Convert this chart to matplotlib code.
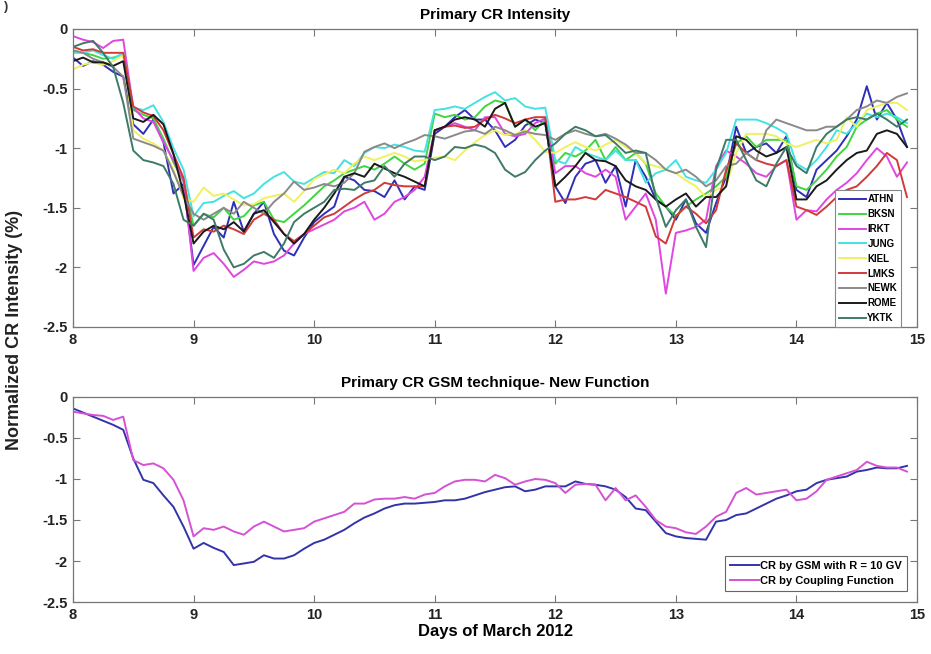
import numpy as np
import matplotlib
matplotlib.use("Agg")
import matplotlib.pyplot as plt

plt.rcParams['font.family'] = ['Liberation Sans', 'DejaVu Sans']
plt.rcParams['font.weight'] = 'bold'

# 2-hourly samples, 8 March 00h .. 14 March 22h
days = 8 + np.arange(84) / 12.0

stations = ['ATHN', 'BKSN', 'IRKT', 'JUNG', 'KIEL', 'LMKS', 'NEWK', 'ROME', 'YKTK']
station_colors = ['#2f2fb8', '#3fd63f', '#e046e0', '#44e2e2', '#f0f060',
                  '#d23a3a', '#8a8a8a', '#1a1a1a', '#3e7a68']

athn = [-0.24, -0.31, -0.27, -0.30, -0.36, -0.40, -0.80, -0.88, -0.76, -0.95, -1.38, -1.30,
        -1.98, -1.82, -1.66, -1.75, -1.45, -1.70, -1.55, -1.45, -1.72, -1.86, -1.90, -1.75,
        -1.62, -1.55, -1.49, -1.24, -1.27, -1.35, -1.36, -1.41, -1.27, -1.43, -1.32, -1.35,
        -0.88, -0.82, -0.74, -0.68, -0.76, -0.76, -0.85, -0.99, -0.93, -0.81, -0.76, -0.79,
        -1.32, -1.46, -1.24, -1.13, -1.10, -1.29, -1.15, -1.49, -1.10, -1.24, -1.43, -1.49,
        -1.60, -1.43, -1.63, -1.71, -1.46, -1.24, -0.82, -1.04, -0.99, -0.96, -1.04, -0.90,
        -1.35, -1.41, -1.18, -1.10, -1.02, -0.90, -0.76, -0.48, -0.76, -0.62, -0.76, -0.99]
bksn = [-0.18, -0.20, -0.22, -0.25, -0.24, -0.22, -0.68, -0.72, -0.75, -0.92, -1.12, -1.28,
        -1.65, -1.55, -1.58, -1.50, -1.60, -1.57, -1.48, -1.45, -1.60, -1.62, -1.55, -1.48,
        -1.40, -1.32, -1.27, -1.21, -1.18, -1.15, -1.18, -1.13, -1.07, -1.13, -1.18, -1.13,
        -0.71, -0.74, -0.72, -0.76, -0.74, -0.65, -0.60, -0.62, -0.82, -0.76, -0.85, -0.76,
        -1.13, -1.04, -1.07, -1.02, -0.93, -1.10, -0.99, -1.10, -1.04, -1.13, -1.38, -1.49,
        -1.57, -1.49, -1.43, -1.38, -1.32, -1.24, -0.96, -0.90, -0.99, -0.93, -0.93, -0.93,
        -1.32, -1.35, -1.27, -1.18, -1.07, -0.99, -0.82, -0.76, -0.71, -0.68, -0.76, -0.82]
irkt = [-0.06, -0.09, -0.11, -0.16, -0.10, -0.09, -0.66, -0.75, -0.78, -0.95, -1.10, -1.27,
        -2.03, -1.92, -1.88, -1.97, -2.08, -2.02, -1.95, -1.97, -1.95, -1.90, -1.80, -1.72,
        -1.68, -1.64, -1.60, -1.53, -1.50, -1.45, -1.60, -1.55, -1.45, -1.41, -1.35, -1.24,
        -0.85, -0.82, -0.79, -0.82, -0.85, -0.74, -0.74, -0.88, -0.90, -0.88, -0.79, -0.75,
        -1.21, -1.15, -1.15, -1.21, -1.24, -1.18, -1.24, -1.60, -1.49, -1.38, -1.60, -2.22,
        -1.71, -1.69, -1.66, -1.60, -1.15, -1.02, -1.07, -1.13, -1.21, -1.24, -1.15, -1.10,
        -1.60, -1.52, -1.53, -1.43, -1.35, -1.29, -1.21, -1.10, -1.00, -1.07, -1.24, -1.12]
jung = [-0.20, -0.20, -0.18, -0.22, -0.25, -0.20, -0.66, -0.68, -0.64, -0.78, -1.00, -1.18,
        -1.57, -1.46, -1.45, -1.40, -1.36, -1.42, -1.38, -1.30, -1.24, -1.20, -1.28, -1.30,
        -1.25, -1.20, -1.21, -1.10, -1.15, -1.04, -0.99, -1.00, -0.97, -0.99, -1.02, -1.03,
        -0.68, -0.67, -0.65, -0.67, -0.62, -0.57, -0.53, -0.60, -0.58, -0.65, -0.67, -0.66,
        -1.10, -1.13, -0.99, -1.04, -1.07, -1.10, -1.02, -1.10, -1.10, -1.29, -1.21, -1.18,
        -1.10, -1.24, -1.27, -1.29, -1.18, -1.04, -0.76, -0.76, -0.76, -0.79, -0.83, -0.88,
        -1.13, -1.18, -1.10, -0.99, -0.85, -0.88, -0.79, -0.71, -0.74, -0.71, -0.74, -0.79]
kiel = [-0.34, -0.30, -0.28, -0.30, -0.27, -0.22, -0.85, -0.92, -0.96, -1.02, -1.18, -1.42,
        -1.45, -1.33, -1.40, -1.38, -1.43, -1.48, -1.47, -1.42, -1.40, -1.38, -1.45, -1.36,
        -1.26, -1.22, -1.18, -1.21, -1.13, -1.07, -1.10, -1.07, -1.04, -1.07, -1.11, -1.10,
        -1.08, -1.07, -1.10, -1.02, -0.95, -0.89, -0.85, -0.89, -0.88, -0.85, -0.93, -1.03,
        -1.04, -0.99, -0.95, -0.99, -1.02, -0.97, -0.93, -0.99, -1.04, -1.13, -1.15, -1.18,
        -1.21, -1.27, -1.32, -1.41, -1.35, -1.32, -1.04, -0.88, -0.88, -0.88, -0.90, -0.96,
        -0.99, -0.96, -0.93, -0.96, -0.93, -0.74, -0.82, -0.68, -0.65, -0.62, -0.62, -0.68]
lmks = [-0.15, -0.18, -0.17, -0.20, -0.20, -0.20, -0.65, -0.70, -0.73, -0.85, -1.05, -1.25,
        -1.75, -1.68, -1.70, -1.65, -1.68, -1.72, -1.60, -1.55, -1.60, -1.72, -1.78, -1.72,
        -1.65, -1.58, -1.55, -1.49, -1.43, -1.38, -1.35, -1.29, -1.31, -1.32, -1.32, -1.32,
        -0.85, -0.82, -0.81, -0.83, -0.82, -0.76, -0.72, -0.75, -0.79, -0.76, -0.74, -0.74,
        -1.45, -1.43, -1.43, -1.41, -1.43, -1.35, -1.38, -1.41, -1.45, -1.49, -1.74, -1.80,
        -1.57, -1.49, -1.55, -1.63, -1.52, -1.18, -0.96, -1.04, -1.10, -1.13, -1.15, -1.10,
        -1.49, -1.52, -1.56, -1.49, -1.41, -1.35, -1.32, -1.24, -1.15, -1.04, -1.10, -1.41]
newk = [-0.18, -0.20, -0.25, -0.28, -0.32, -0.40, -0.92, -0.95, -0.98, -1.02, -1.20, -1.40,
        -1.55, -1.60, -1.55, -1.50, -1.55, -1.45, -1.50, -1.55, -1.45, -1.38, -1.28, -1.35,
        -1.33, -1.30, -1.32, -1.29, -1.21, -1.03, -0.99, -0.96, -1.00, -0.96, -0.93, -0.89,
        -0.90, -0.92, -0.89, -0.86, -0.85, -0.88, -0.82, -0.85, -0.89, -0.86, -0.88, -0.89,
        -0.93, -0.88, -0.85, -0.88, -0.90, -0.88, -0.92, -0.97, -1.04, -1.04, -1.10, -1.18,
        -1.21, -1.18, -1.24, -1.32, -1.27, -1.15, -1.13, -1.04, -1.10, -0.85, -0.76, -0.79,
        -0.82, -0.85, -0.85, -0.82, -0.82, -0.76, -0.68, -0.65, -0.60, -0.62, -0.57, -0.54]
rome = [-0.27, -0.24, -0.28, -0.28, -0.31, -0.27, -0.75, -0.78, -0.72, -0.80, -1.05, -1.38,
        -1.80, -1.70, -1.65, -1.68, -1.62, -1.70, -1.55, -1.52, -1.62, -1.72, -1.80, -1.72,
        -1.60, -1.50, -1.38, -1.24, -1.21, -1.24, -1.13, -1.17, -1.21, -1.24, -1.28, -1.32,
        -0.85, -0.82, -0.76, -0.74, -0.76, -0.82, -0.67, -0.62, -0.82, -0.76, -0.82, -0.79,
        -1.32, -1.24, -1.15, -1.04, -1.10, -1.11, -1.15, -1.27, -1.32, -1.35, -1.43, -1.49,
        -1.43, -1.38, -1.49, -1.41, -1.41, -1.32, -0.90, -0.93, -1.02, -1.07, -1.04, -0.99,
        -1.43, -1.43, -1.32, -1.27, -1.18, -1.10, -1.04, -1.02, -0.88, -0.85, -0.88, -0.99]
yktk = [-0.15, -0.12, -0.10, -0.20, -0.32, -0.62, -1.02, -1.10, -1.12, -1.15, -1.30, -1.60,
        -1.65, -1.55, -1.60, -1.85, -2.00, -1.97, -1.90, -1.87, -1.92, -1.80, -1.62, -1.55,
        -1.50, -1.45, -1.35, -1.34, -1.35, -1.29, -1.27, -1.15, -1.24, -1.13, -1.07, -1.07,
        -1.10, -1.07, -0.99, -1.00, -0.97, -0.99, -1.04, -1.18, -1.24, -1.20, -1.10, -1.02,
        -0.96, -0.88, -0.82, -0.85, -0.90, -0.89, -0.96, -1.04, -1.02, -1.04, -1.41, -1.66,
        -1.52, -1.43, -1.66, -1.83, -1.18, -0.93, -0.93, -1.10, -1.27, -1.32, -1.13, -0.99,
        -1.15, -1.21, -0.99, -0.88, -0.82, -0.76, -0.74, -0.76, -0.71, -0.76, -0.82, -0.76]
station_series = [athn, bksn, irkt, jung, kiel, lmks, newk, rome, yktk]

# GSM-derived primary intensity and coupling-function estimate
gsm_10gv = [-0.14, -0.19, -0.24, -0.29, -0.34, -0.40, -0.75, -1.01, -1.05, -1.20, -1.34, -1.58,
            -1.85, -1.78, -1.84, -1.89, -2.05, -2.03, -2.01, -1.93, -1.97, -1.97, -1.93, -1.85,
            -1.78, -1.74, -1.68, -1.62, -1.54, -1.47, -1.42, -1.36, -1.32, -1.30, -1.30, -1.29,
            -1.28, -1.26, -1.26, -1.24, -1.20, -1.16, -1.13, -1.10, -1.09, -1.15, -1.13, -1.09,
            -1.09, -1.09, -1.03, -1.06, -1.07, -1.09, -1.13, -1.22, -1.36, -1.38, -1.52, -1.66,
            -1.70, -1.72, -1.73, -1.74, -1.52, -1.50, -1.44, -1.42, -1.36, -1.30, -1.24, -1.20,
            -1.15, -1.13, -1.05, -1.01, -0.99, -0.97, -0.91, -0.89, -0.86, -0.87, -0.87, -0.84]
coupling = [-0.18, -0.20, -0.22, -0.23, -0.28, -0.24, -0.77, -0.83, -0.81, -0.87, -1.01, -1.26,
            -1.70, -1.60, -1.62, -1.58, -1.64, -1.68, -1.58, -1.52, -1.58, -1.64, -1.62, -1.60,
            -1.52, -1.48, -1.44, -1.40, -1.30, -1.30, -1.25, -1.24, -1.24, -1.22, -1.24, -1.19,
            -1.17, -1.09, -1.03, -1.01, -1.01, -1.03, -0.95, -0.99, -1.07, -1.03, -1.00, -1.01,
            -1.05, -1.17, -1.07, -1.06, -1.07, -1.26, -1.11, -1.26, -1.20, -1.34, -1.50, -1.58,
            -1.60, -1.65, -1.67, -1.58, -1.46, -1.40, -1.17, -1.11, -1.19, -1.17, -1.15, -1.13,
            -1.26, -1.24, -1.15, -1.01, -0.97, -0.93, -0.89, -0.79, -0.84, -0.86, -0.86, -0.91]

x_ticks = [8, 9, 10, 11, 12, 13, 14, 15]
y_ticks = [0, -0.5, -1, -1.5, -2, -2.5]
y_tick_labels = ['0', '-0.5', '-1', '-1.5', '-2', '-2.5']

fig = plt.figure(figsize=(9.31, 6.54), dpi=100)
ax1 = fig.add_axes([0.0784, 0.500, 0.9066, 0.4557])
ax2 = fig.add_axes([0.0784, 0.0795, 0.9066, 0.3135])


def style_axes(ax):
    ax.set_xlim(8, 15)
    ax.set_ylim(-2.5, 0)
    ax.set_xticks(x_ticks)
    ax.set_xticklabels([str(t) for t in x_ticks])
    ax.set_yticks(y_ticks)
    ax.set_yticklabels(y_tick_labels)
    ax.tick_params(direction='in', top=True, right=True, length=5, width=0.8,
                   color='#777777', labelsize=10.5, labelcolor='#222222', pad=4)
    for lab in ax.get_xticklabels() + ax.get_yticklabels():
        lab.set_fontweight('bold')
    for sp in ax.spines.values():
        sp.set_color('#777777')
        sp.set_linewidth(0.9)


for name, col, vals in zip(stations, station_colors, station_series):
    ax1.plot(days, vals, color=col, lw=1.4, label=name)
style_axes(ax1)
ax1.set_title('Primary CR Intensity', fontsize=11, fontweight='bold', pad=7)
leg1 = ax1.legend(loc='lower right', bbox_to_anchor=(0.981, 0.0), borderaxespad=0,
                  fontsize=7, handlelength=2.8, handletextpad=0.1, labelspacing=0.5,
                  fancybox=False, framealpha=1, borderpad=0.4)
leg1.get_frame().set_edgecolor('#888888')
leg1.get_frame().set_linewidth(0.8)
for t in leg1.get_texts():
    t.set_fontweight('bold')

ax2.plot(days, gsm_10gv, color='#3434a8', lw=1.4, label='CR by GSM with R = 10 GV')
ax2.plot(days, coupling, color='#d452d4', lw=1.4, label='CR by Coupling Function')
style_axes(ax2)
ax2.set_title('Primary CR GSM technique- New Function', fontsize=11, fontweight='bold', pad=7)
ax2.set_xlabel('Days of March 2012', fontsize=12, fontweight='bold', labelpad=2)
leg2 = ax2.legend(loc='lower right', bbox_to_anchor=(0.988, 0.054), borderaxespad=0,
                  fontsize=8, handlelength=2.6, handletextpad=0.1, labelspacing=0.45,
                  fancybox=False, framealpha=1, borderpad=0.45)
leg2.get_frame().set_edgecolor('#666666')
leg2.get_frame().set_linewidth(0.8)
for t in leg2.get_texts():
    t.set_fontweight('bold')

fig.text(0.016, 0.495, 'Normalized CR Intensity (%)', rotation=90, ha='center', va='center',
         fontsize=13, fontweight='bold', color='#222222')
fig.text(0.004, 0.999, ')', ha='left', va='top', fontsize=9, color='#333333')

fig.savefig('out.png', dpi=100)
